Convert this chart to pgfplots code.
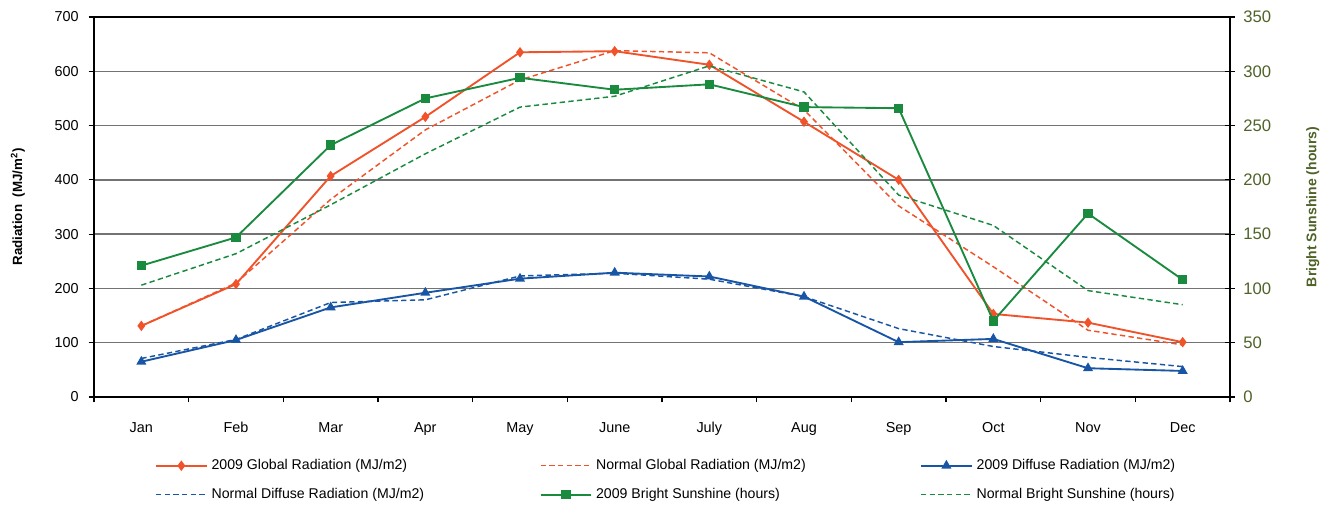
\documentclass[border=0pt]{standalone}
\usepackage{fontspec}
\setmainfont{Liberation Sans}
\usepackage{pgfplots}
\pgfplotsset{compat=1.18}
\usepackage{pgfplotstable}

\definecolor{cgl}{RGB}{240,82,42}
\definecolor{cdf}{RGB}{25,85,165}
\definecolor{csun}{RGB}{25,138,62}
\definecolor{olive}{RGB}{79,98,40}

% month index, global 2009, global normal, diffuse 2009, diffuse normal, sunshine 2009, sunshine normal
\pgfplotstableread{
m gl gln df dfn sun sunn
0 131 131 65 71 121 103
1 208 210 105 106 147 132
2 407 364 165 174 232 177
3 516 492 192 179 275 224
4 635 584 218 223 294 267
5 637 638 229 228 283 277
6 612 634 222 217 288 305
7 507 529 185 185 267 281
8 400 352 101 126 266 186
9 153 240 107 93 70 158
10 137 123 53 73 169 98
11 101 96 48 56 108 85
}\data

\pgfplotsset{
  sA/.style={color=cgl, line width=1.4pt, mark=diamond*, mark size=2.8pt, mark options={solid}},
  sB/.style={color=cgl, line width=1.1pt, dash pattern=on 4pt off 2.5pt, mark=none},
  sC/.style={color=cdf, line width=1.4pt, mark=triangle*, mark size=3pt, mark options={solid}},
  sD/.style={color=cdf, line width=1.1pt, dash pattern=on 4pt off 2.5pt, mark=none},
  sE/.style={color=csun, line width=1.4pt, mark=square*, mark size=2.8pt, mark options={solid}},
  sF/.style={color=csun, line width=1.1pt, dash pattern=on 4pt off 2.5pt, mark=none},
  base/.style={
    width=852pt, height=285pt, scale only axis,
    at={(0,0)}, anchor=south west,
    xmin=-0.5, xmax=11.5,
    /pgf/number format/assume math mode=true,
  },
}

\begin{document}
\begin{tikzpicture}
\path (-70.5pt,-80.25pt) rectangle (929.25pt,297.75pt);

\begin{axis}[base,
  ymin=0, ymax=700, ytick={0,100,...,700},
  xtick={0,...,11},
  xticklabels={Jan,Feb,Mar,Apr,May,June,July,Aug,Sep,Oct,Nov,Dec},
  minor xtick={-0.5,0.5,...,11.5},
  major x tick style={draw=none},
  tick align=outside, xtick pos=bottom, ytick pos=left,
  major tick length=4pt, minor tick length=4pt,
  tick style={black, line width=0.8pt},
  ymajorgrids, grid style={black!55, line width=1pt},
  axis line style={black, line width=1.3pt},
  ticklabel style={font=\fontsize{10.8}{12}\selectfont},
  xticklabel style={yshift=-10.5pt, text height=1.6ex, text depth=0.3ex},
  yticklabel style={xshift=-4pt},
  ylabel={\textbf{Radiation\ \ (MJ/m\textsuperscript{2})}},
  ylabel style={at={(axis description cs:-0.067,0.5)}, anchor=center, font=\fontsize{10}{12}\selectfont},
]
\addplot[sA] table[x=m, y=gl] {\data};
\addplot[sB] table[x=m, y=gln] {\data};
\addplot[sC] table[x=m, y=df] {\data};
\addplot[sD] table[x=m, y=dfn] {\data};
\end{axis}

\begin{axis}[base,
  ymin=0, ymax=350, ytick={0,50,...,350},
  axis x line=none, axis y line*=right,
  tick align=center, major tick length=7pt,
  tick style={black, line width=0.8pt},
  axis line style={black, line width=1.3pt},
  yticklabel style={font=\fontsize{12.5}{14}\selectfont, text=olive, xshift=3pt},
  ylabel={\textbf{Bright Sunshine (hours)}},
  ylabel style={at={(axis description cs:1.0728,0.5)}, anchor=center, text=olive, font=\fontsize{10.5}{12}\selectfont},
  legend columns=3,
  legend style={at={(axis description cs:0.05,-0.15)}, anchor=north west, draw=none, fill=none,
    font=\fontsize{10.6}{12}\selectfont,
    /tikz/every odd column/.append style={column sep=1pt},
    row sep=8.5pt},
  legend cell align=left,
  legend image code/.code={\draw[mark repeat=2, mark phase=2, #1] plot coordinates {(0pt,0pt) (19pt,0pt) (38pt,0pt)};},
]
\addlegendimage{sA}
\addlegendentry{\makebox[244pt][l]{2009 Global Radiation (MJ/m2)}}
\addlegendimage{sB}
\addlegendentry{\makebox[241pt][l]{Normal Global Radiation (MJ/m2)}}
\addlegendimage{sC}
\addlegendentry{2009 Diffuse Radiation (MJ/m2)}
\addlegendimage{sD}
\addlegendentry{\makebox[244pt][l]{Normal Diffuse Radiation (MJ/m2)}}
\addplot[sE] table[x=m, y=sun] {\data};
\addlegendentry{\makebox[241pt][l]{2009 Bright Sunshine (hours)}}
\addplot[sF] table[x=m, y=sunn] {\data};
\addlegendentry{Normal Bright Sunshine (hours)}
\end{axis}
\end{tikzpicture}
\end{document}
